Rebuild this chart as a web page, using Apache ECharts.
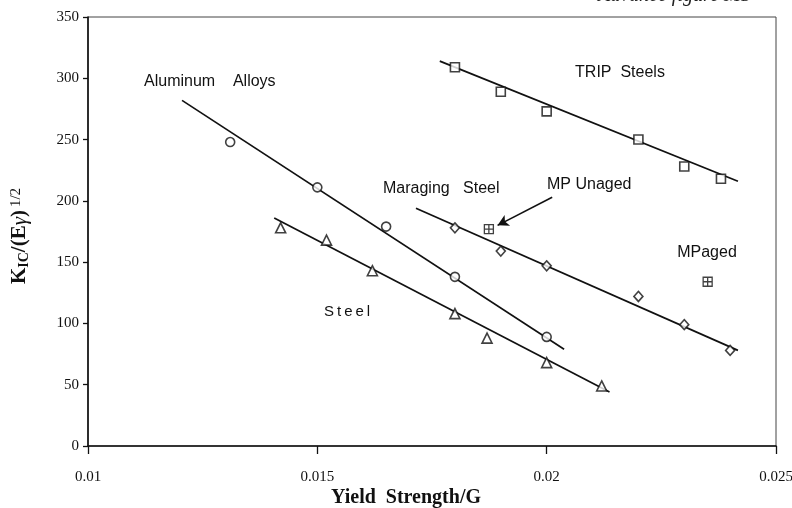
<!DOCTYPE html>
<html>
<head>
<meta charset="utf-8">
<script src="https://cdn.jsdelivr.net/npm/echarts@6/dist/echarts.min.js"></script>
<style>
  html, body { margin: 0; padding: 0; background: #fff; }
  #chart { width: 792px; height: 508px; }
</style>
</head>
<body>
<div id="chart"></div>
<script>
// values (yield strength / G  vs  K_IC/(E gamma)^1/2)
const xTicks = [0.01, 0.015, 0.02, 0.025];
const yTicks = [0, 50, 100, 150, 200, 250, 300, 350];

const alumX = [0.0131, 0.0150, 0.0165, 0.0180, 0.0200];
const alumY = [248, 211, 179, 138, 89];
const alumFit = [[0.01205, 282], [0.02038, 79]];

const steelX = [0.0142, 0.0152, 0.0162, 0.0180, 0.0187, 0.0200, 0.0212];
const steelY = [178, 168, 143, 108, 88, 68, 49];
const steelFit = [[0.01406, 186], [0.02137, 44]];

const tripX = [0.0180, 0.0190, 0.0200, 0.0220, 0.0230, 0.0238];
const tripY = [309, 289, 273, 250, 228, 218];
const tripFit = [[0.01767, 314], [0.02417, 216]];

const maragX = [0.0180, 0.0190, 0.0200, 0.0220, 0.0230, 0.0240];
const maragY = [178, 159, 147, 122, 99, 78];
const maragFit = [[0.01715, 194], [0.02417, 78]];

const mpUnaged = [0.01874, 177];
const mpAged = [0.02351, 134];
const arrowFrom = [0.02012, 203];
const arrowTo = [0.01893, 180];

const pairs = (xs, ys) => xs.map((x, i) => [x, ys[i]]);

const ink = '#111';
const sans = 'Liberation Sans, Arial, sans-serif';
const serif = 'Liberation Serif, Times New Roman, serif';
const crossBox = 'path://M0,0H10V10H0Z M5,0V10 M0,5H10';

function pointSeries(data, symbol, size) {
  return {
    type: 'scatter',
    data: data,
    symbol: symbol,
    symbolSize: size,
    itemStyle: { color: '#fff', borderColor: ink, borderWidth: 1.6 },
    z: 3
  };
}

function fitSeries(data) {
  return {
    type: 'line',
    data: data,
    symbol: 'none',
    lineStyle: { color: ink, width: 1.7 },
    z: 2
  };
}

const chart = echarts.init(document.getElementById('chart'));

chart.setOption({
  animation: false,
  backgroundColor: '#fff',
  grid: {
    left: 88, right: 16, top: 17, bottom: 62,
    outerBoundsMode: 'none',
    show: true, borderColor: '#444', borderWidth: 1
  },
  xAxis: {
    type: 'value',
    min: xTicks[0], max: xTicks[xTicks.length - 1], interval: 0.005,
    axisLine: { onZero: false, lineStyle: { color: ink, width: 1.6 } },
    axisTick: { show: true, inside: false, length: 8, lineStyle: { color: ink, width: 1.3 } },
    axisLabel: {
      margin: 24, color: ink, fontFamily: serif, fontSize: 15,
      formatter: v => String(+v.toFixed(3))
    },
    splitLine: { show: false }
  },
  yAxis: {
    type: 'value',
    min: yTicks[0], max: yTicks[yTicks.length - 1], interval: 50,
    axisLine: { show: true, lineStyle: { color: ink, width: 1.6 } },
    axisTick: { show: true, inside: false, length: 5, lineStyle: { color: ink, width: 1.3 } },
    axisLabel: { margin: 9, color: ink, fontFamily: serif, fontSize: 15 },
    splitLine: { show: false }
  },
  series: [
    fitSeries(alumFit),
    fitSeries(steelFit),
    fitSeries(tripFit),
    fitSeries(maragFit),
    pointSeries(pairs(alumX, alumY), 'circle', 9),
    pointSeries(pairs(steelX, steelY), 'triangle', 10),
    pointSeries(pairs(tripX, tripY), 'rect', 9),
    pointSeries(pairs(maragX, maragY), 'diamond', [9, 10]),
    {
      type: 'scatter',
      data: [mpUnaged, mpAged],
      symbol: crossBox,
      symbolSize: 9,
      itemStyle: { color: '#fff', borderColor: ink, borderWidth: 1.3 },
      z: 3,
      markLine: {
        silent: true,
        symbol: ['none', 'arrow'],
        symbolSize: [9, 11],
        label: { show: false },
        lineStyle: { color: ink, width: 1.6, type: 'solid' },
        data: [[{ coord: arrowFrom }, { coord: arrowTo }]]
      }
    }
  ],
  graphic: [
    {
      type: 'text', left: 598, top: -14,
      style: { text: 'Advance figure MS', fill: '#222', font: 'italic 20px ' + serif }
    },
    {
      type: 'text', x: 144, y: 82,
      style: { text: 'Aluminum    Alloys', fill: ink, font: '16px ' + sans, verticalAlign: 'middle' }
    },
    {
      type: 'text', x: 620, y: 73,
      style: { text: 'TRIP  Steels', fill: ink, font: '16px ' + sans, align: 'center', verticalAlign: 'middle' }
    },
    {
      type: 'text', x: 383, y: 189,
      style: { text: 'Maraging   Steel', fill: ink, font: '16px ' + sans, verticalAlign: 'middle' }
    },
    {
      type: 'text', x: 547, y: 185,
      style: { text: 'MP Unaged', fill: ink, font: '16px ' + sans, verticalAlign: 'middle' }
    },
    {
      type: 'text', x: 707, y: 253,
      style: { text: 'MPaged', fill: ink, font: '16px ' + sans, align: 'center', verticalAlign: 'middle' }
    },
    {
      type: 'text', x: 324, y: 312,
      style: { text: 'S\u2009t\u2009e\u2009e\u2009l', fill: ink, font: '15px ' + sans, verticalAlign: 'middle' }
    },
    {
      type: 'text', x: 406, y: 498,
      style: {
        text: 'Yield  Strength/G', fill: ink, font: 'bold 20px ' + serif,
        align: 'center', verticalAlign: 'middle'
      }
    },
    {
      type: 'text', x: 20, y: 236, rotation: Math.PI / 2,
      style: {
        text: '{k|K}{s|IC}{n|/(E}{g|γ}{n|)}{p|1/2}',
        align: 'center', verticalAlign: 'middle', fill: ink,
        rich: {
          k: { font: 'bold 21px ' + serif, fill: ink },
          s: { font: 'bold 14px ' + serif, fill: ink, verticalAlign: 'bottom', padding: [7, 0, 0, 0] },
          n: { font: 'bold 21px ' + serif, fill: ink },
          g: { font: 'italic 21px ' + serif, fill: ink },
          p: { font: '15px ' + serif, fill: ink, verticalAlign: 'top', padding: [0, 0, 7, 3] }
        }
      }
    }
  ]
});
</script>
</body>
</html>
